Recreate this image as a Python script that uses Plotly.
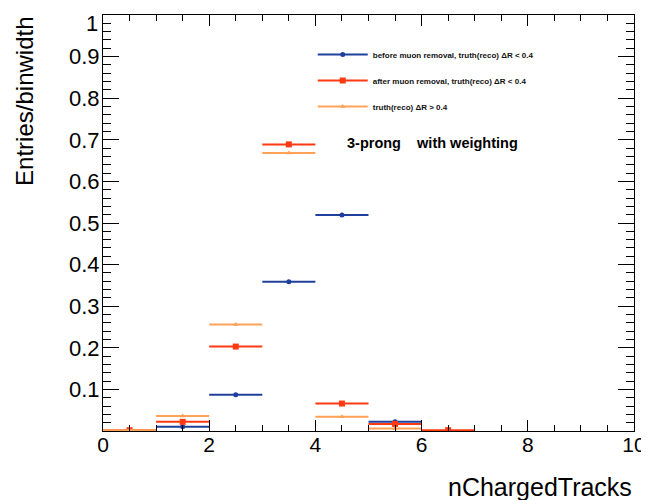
import plotly.graph_objects as go

# bin centres (nChargedTracks), bin half width
blue_x = [1.5, 2.5, 3.5, 4.5, 5.5]
blue_y = [0.010, 0.087, 0.359, 0.519, 0.022]
red_x = [0.5, 1.5, 2.5, 3.5, 4.5, 5.5, 6.5]
red_y = [0.002, 0.022, 0.203, 0.689, 0.066, 0.017, 0.002]
orange_x = [0.5, 1.5, 2.5, 3.5, 4.5, 5.5]
orange_y = [0.002, 0.036, 0.256, 0.668, 0.034, 0.006]
half_width = 0.5

y_tickvals = [0.1, 0.2, 0.3, 0.4, 0.5, 0.6, 0.7, 0.8, 0.9]
y_ticktext = ["0.1", "0.2", "0.3", "0.4", "0.5", "0.6", "0.7", "0.8", "0.9"]
y_top_label = "1"
x_tickvals = [0, 2, 4, 6, 8, 10]

names = ["before muon removal, truth(reco) \u0394R < 0.4",
         "after muon removal, truth(reco) \u0394R < 0.4",
         "truth(reco) \u0394R > 0.4"]
colors = ["#1f3f9c", "#ff3a12", "#ffa257"]
symbols = ["circle", "square", "triangle-up"]
sizes = [5, 6, 5]

fig = go.Figure()
series = [(blue_x, blue_y), (red_x, red_y), (orange_x, orange_y)]
for i, (xs, ys) in enumerate(series):
    fig.add_trace(go.Scatter(
        x=xs, y=ys, mode="markers", showlegend=False,
        marker=dict(color=colors[i], symbol=symbols[i], size=sizes[i]),
        error_x=dict(type="constant", value=half_width, color=colors[i],
                     thickness=2, width=0),
    ))
for i in range(3):
    fig.add_trace(go.Scatter(
        x=[None], y=[None], mode="lines+markers", name="<b>" + names[i] + "</b>",
        legendgroup=str(i),
        line=dict(color=colors[i], width=2),
        marker=dict(color=colors[i], symbol=symbols[i], size=sizes[i]),
    ))

font = "Liberation Sans, Arial, sans-serif"
# page body adds ~8px offset; compensate so plot area sits at x 103-634, y 15-431
fig.update_layout(
    width=641, height=492,
    margin=dict(l=95, r=15, t=7, b=69),
    plot_bgcolor="white", paper_bgcolor="white",
    font=dict(family=font, color="black"),
    showlegend=True,
    legend=dict(x=0.395, y=0.94, xanchor="left", yanchor="top",
                bgcolor="rgba(0,0,0,0)", font=dict(size=8, color="#111"),
                itemwidth=50, tracegroupgap=7),
    xaxis=dict(range=[0, 10], tickvals=x_tickvals,
               ticks="inside", ticklen=11, tickcolor="black",
               showline=True, linecolor="black", linewidth=1, mirror="ticks",
               showgrid=False, zeroline=False, automargin=False,
               tickfont=dict(size=21), ticklabelstandoff=-5,
               ticklabeloverflow="allow",
               minor=dict(dtick=0.5, ticks="inside", ticklen=6, tickcolor="black")),
    yaxis=dict(range=[0, 1], tickvals=y_tickvals, ticktext=y_ticktext,
               ticks="inside", ticklen=16, tickcolor="black",
               showline=True, linecolor="black", linewidth=1, mirror="ticks",
               showgrid=False, zeroline=False, automargin=False,
               tickfont=dict(size=22), ticklabelstandoff=-2,
               minor=dict(dtick=0.02, ticks="inside", ticklen=8, tickcolor="black")),
)
fig.add_annotation(text=y_top_label, xref="paper", yref="paper",
                   x=0, y=1.015, xanchor="right", yanchor="top", xshift=-3,
                   showarrow=False, font=dict(size=22, family=font))
fig.add_annotation(text="Entries/binwidth", xref="paper", yref="paper",
                   x=-0.148, y=1.0, xanchor="center", yanchor="top", textangle=-90,
                   showarrow=False, font=dict(size=24, family=font))
fig.add_annotation(text="nChargedTracks", xref="paper", yref="paper",
                   x=1.0, y=-0.135, xanchor="right", yanchor="middle",
                   showarrow=False, font=dict(size=25, family=font))
fig.add_annotation(text="<b>3-prong    with weighting</b>", xref="paper", yref="paper",
                   x=0.455, y=0.693, xanchor="left", yanchor="middle",
                   showarrow=False, font=dict(size=14.5, family=font))
fig.write_html("out.html")
